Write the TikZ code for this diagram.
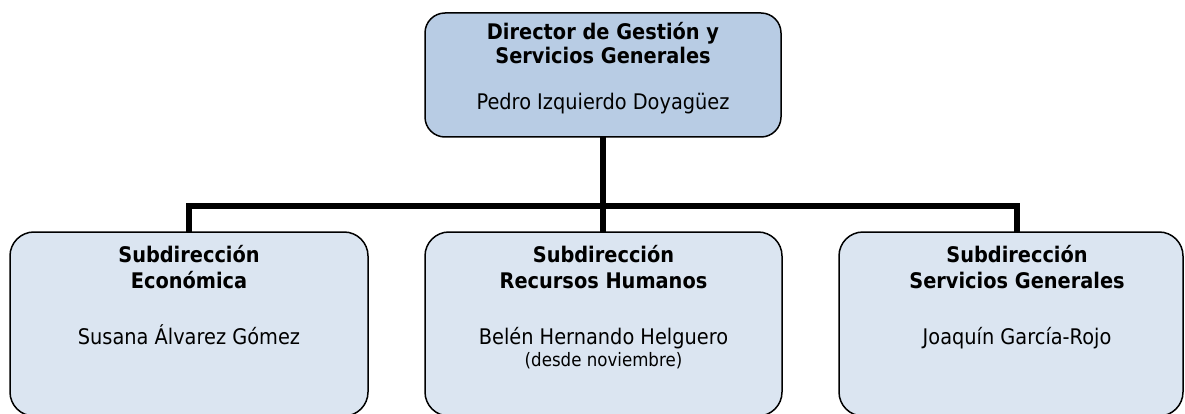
\documentclass[tikz,border=0pt]{standalone}
\usepackage{fontspec}
\setmainfont[FakeStretch=0.9]{DejaVu Sans}
\definecolor{topfill}{HTML}{B8CCE4}
\definecolor{subfill}{HTML}{DBE5F1}
\tikzset{
  topbox/.style={draw=black, line width=1.5pt, fill=topfill, rounded corners=20pt, inner sep=0pt, outer sep=0pt},
  subbox/.style={draw=black, line width=1.5pt, fill=subfill, rounded corners=24pt, inner sep=0pt, outer sep=0pt},
  title/.style={anchor=base, inner sep=0pt, font=\fontsize{21.5}{26}\selectfont\bfseries},
  person/.style={anchor=base, inner sep=0pt, font=\fontsize{21.5}{26}\selectfont},
  note/.style={anchor=base, inner sep=0pt, font=\fontsize{18.5}{22}\selectfont},
  conn/.style={line width=6pt, line join=miter, line cap=butt}
}
\begin{document}
\begin{tikzpicture}[x=1pt, y=-1pt]
\useasboundingbox (0,0) rectangle (1185,414);
% boxes
\node[topbox, minimum width=356pt, minimum height=124pt] (top) at (603,75) {};
\node[subbox, minimum width=358pt, minimum height=184pt] (L) at (189,324) {};
\node[subbox, minimum width=357pt, minimum height=184pt] (M) at (603.5,324) {};
\node[subbox, minimum width=344pt, minimum height=184pt] (R) at (1011,324) {};
% bus coordinates
\coordinate (busL) at (189,206);
\coordinate (busR) at (1017,206);
% connectors
\draw[conn] (L.north) -- (busL) -- (busR) -- (busR |- R.north);
\draw[conn] (top.south) -- (top.south |- M.north);
% top texts
\node[title] (t1) at (603,40) {Director de Gestión y};
\node[title] (t2) at (603,64) {Servicios Generales};
\node[person] (t3) at (603,110) {Pedro Izquierdo Doyagüez};
% left texts
\node[title] (l1) at (189,262) {Subdirección};
\node[title] (l2) at (189,288) {Económica};
\node[person] (l3) at (189,344) {Susana Álvarez Gómez};
% middle texts
\node[title] (m1) at (603.5,262) {Subdirección};
\node[title] (m2) at (603.5,288) {Recursos Humanos};
\node[person] (m3) at (603.5,344) {Belén Hernando Helguero};
\node[note] (m4) at (603.5,366) {(desde noviembre)};
% right texts
\node[title] (r1) at (1017,262) {Subdirección};
\node[title] (r2) at (1017,288) {Servicios Generales};
\node[person] (r3) at (1017,344) {Joaquín García-Rojo};
\end{tikzpicture}
\end{document}
